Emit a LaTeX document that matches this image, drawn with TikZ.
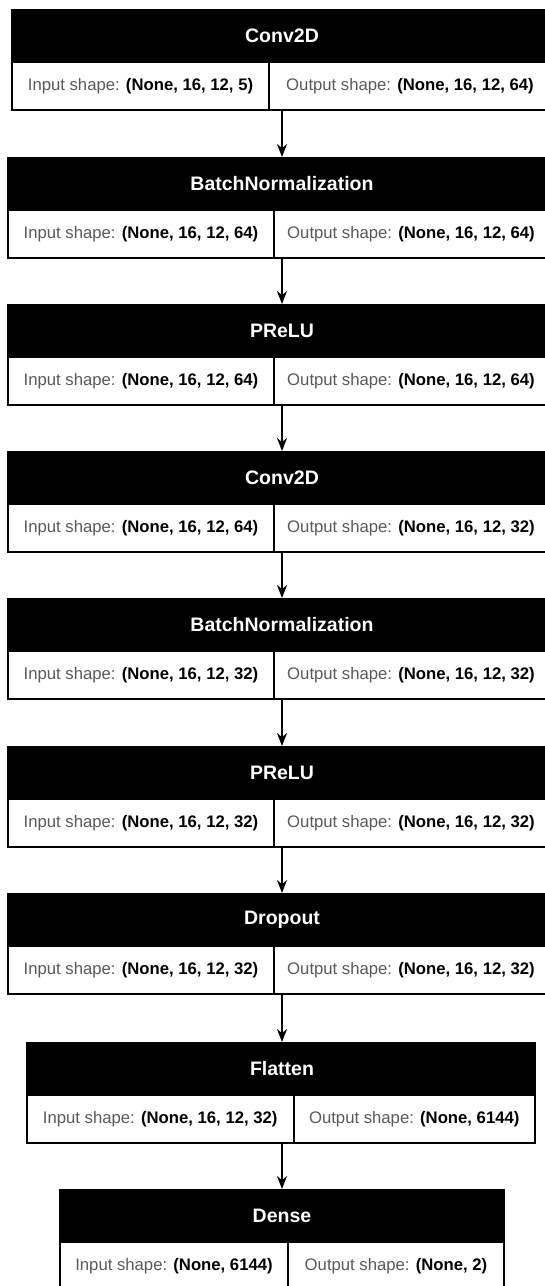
\documentclass[tikz,border=0pt]{standalone}
\usepackage{fontspec}
\setmainfont{Liberation Sans}
\usetikzlibrary{arrows.meta}
\definecolor{labelgray}{HTML}{5A5A5A}
\newcommand{\inshape}[1]{{\color{labelgray}Input shape:} \textbf{#1}}
\newcommand{\outshape}[1]{{\color{labelgray}Output shape:} \textbf{#1}}
\tikzset{
	head/.style={draw=black, fill=black, line width=2pt, inner sep=0pt, minimum height=52pt},
	cell/.style={draw=black, fill=white, line width=2pt, inner sep=0pt, minimum height=48pt, font=\fontsize{16.7}{20}\selectfont},
	headtxt/.style={text=white, inner sep=0pt, font=\fontsize{19.5}{23}\selectfont\bfseries},
	dims/.style={inner sep=0pt, font=\fontsize{16.7}{20}\selectfont},
	flow/.style={-{Stealth[length=13pt, width=10pt]}, line width=2pt}
}
\begin{document}
\begin{tikzpicture}[x=1pt, y=-1pt]
	\useasboundingbox (0,0) rectangle (544,1286);

	\node[head, minimum width=544pt] (h1)at(284,36){};
	\node[headtxt] (t1)at(282,36){Conv2D};
	\node[cell, minimum width=257pt] (i1)at(140.5,86){\inshape{(None, 16, 12, 5)}};
	\node[cell, minimum width=287pt] (o1)at(412.5,86){};
	\node[dims] (o1t)at(410,86){\outshape{(None, 16, 12, 64)}};

	\node[head, minimum width=548pt] (h2)at(282,184){};
	\node[headtxt] (t2)at(282,184){BatchNormalization};
	\node[cell, minimum width=266pt] (i2)at(141,234){\inshape{(None, 16, 12, 64)}};
	\node[cell, minimum width=282pt] (o2)at(415,234){};
	\node[dims] (o2t)at(411,234){\outshape{(None, 16, 12, 64)}};

	\node[head, minimum width=548pt] (h3)at(282,331){};
	\node[headtxt] (t3)at(282,331){PReLU};
	\node[cell, minimum width=266pt] (i3)at(141,381){\inshape{(None, 16, 12, 64)}};
	\node[cell, minimum width=282pt] (o3)at(415,381){};
	\node[dims] (o3t)at(411,381){\outshape{(None, 16, 12, 64)}};

	\node[head, minimum width=548pt] (h4)at(282,478){};
	\node[headtxt] (t4)at(282,478){Conv2D};
	\node[cell, minimum width=266pt] (i4)at(141,528){\inshape{(None, 16, 12, 64)}};
	\node[cell, minimum width=282pt] (o4)at(415,528){};
	\node[dims] (o4t)at(411,528){\outshape{(None, 16, 12, 32)}};

	\node[head, minimum width=548pt] (h5)at(282,625){};
	\node[headtxt] (t5)at(282,625){BatchNormalization};
	\node[cell, minimum width=266pt] (i5)at(141,675){\inshape{(None, 16, 12, 32)}};
	\node[cell, minimum width=282pt] (o5)at(415,675){};
	\node[dims] (o5t)at(411,675){\outshape{(None, 16, 12, 32)}};

	\node[head, minimum width=548pt] (h6)at(282,773){};
	\node[headtxt] (t6)at(282,773){PReLU};
	\node[cell, minimum width=266pt] (i6)at(141,823){\inshape{(None, 16, 12, 32)}};
	\node[cell, minimum width=282pt] (o6)at(415,823){};
	\node[dims] (o6t)at(411,823){\outshape{(None, 16, 12, 32)}};

	\node[head, minimum width=548pt] (h7)at(282,920){};
	\node[headtxt] (t7)at(282,920){Dropout};
	\node[cell, minimum width=266pt] (i7)at(141,970){\inshape{(None, 16, 12, 32)}};
	\node[cell, minimum width=282pt] (o7)at(415,970){};
	\node[dims] (o7t)at(411,970){\outshape{(None, 16, 12, 32)}};

	\node[head, minimum width=508pt] (h8)at(281,1069){};
	\node[headtxt] (t8)at(282,1069){Flatten};
	\node[cell, minimum width=266.5pt] (i8)at(160.25,1119){\inshape{(None, 16, 12, 32)}};
	\node[cell, minimum width=241.5pt] (o8)at(414.25,1119){\outshape{(None, 6144)}};

	\node[head, minimum width=444pt] (h9)at(282,1216){};
	\node[headtxt] (t9)at(282,1216){Dense};
	\node[cell, minimum width=228pt] (i9)at(174,1266){\inshape{(None, 6144)}};
	\node[cell, minimum width=216pt] (o9)at(396,1266){\outshape{(None, 2)}};

	\draw [flow] (t1 |- i1.south) -- (t2 |- h2.north);
	\draw [flow] (t2 |- i2.south) -- (t3 |- h3.north);
	\draw [flow] (t3 |- i3.south) -- (t4 |- h4.north);
	\draw [flow] (t4 |- i4.south) -- (t5 |- h5.north);
	\draw [flow] (t5 |- i5.south) -- (t6 |- h6.north);
	\draw [flow] (t6 |- i6.south) -- (t7 |- h7.north);
	\draw [flow] (t7 |- i7.south) -- (t8 |- h8.north);
	\draw [flow] (t8 |- i8.south) -- (t9 |- h9.north);
\end{tikzpicture}
\end{document}
